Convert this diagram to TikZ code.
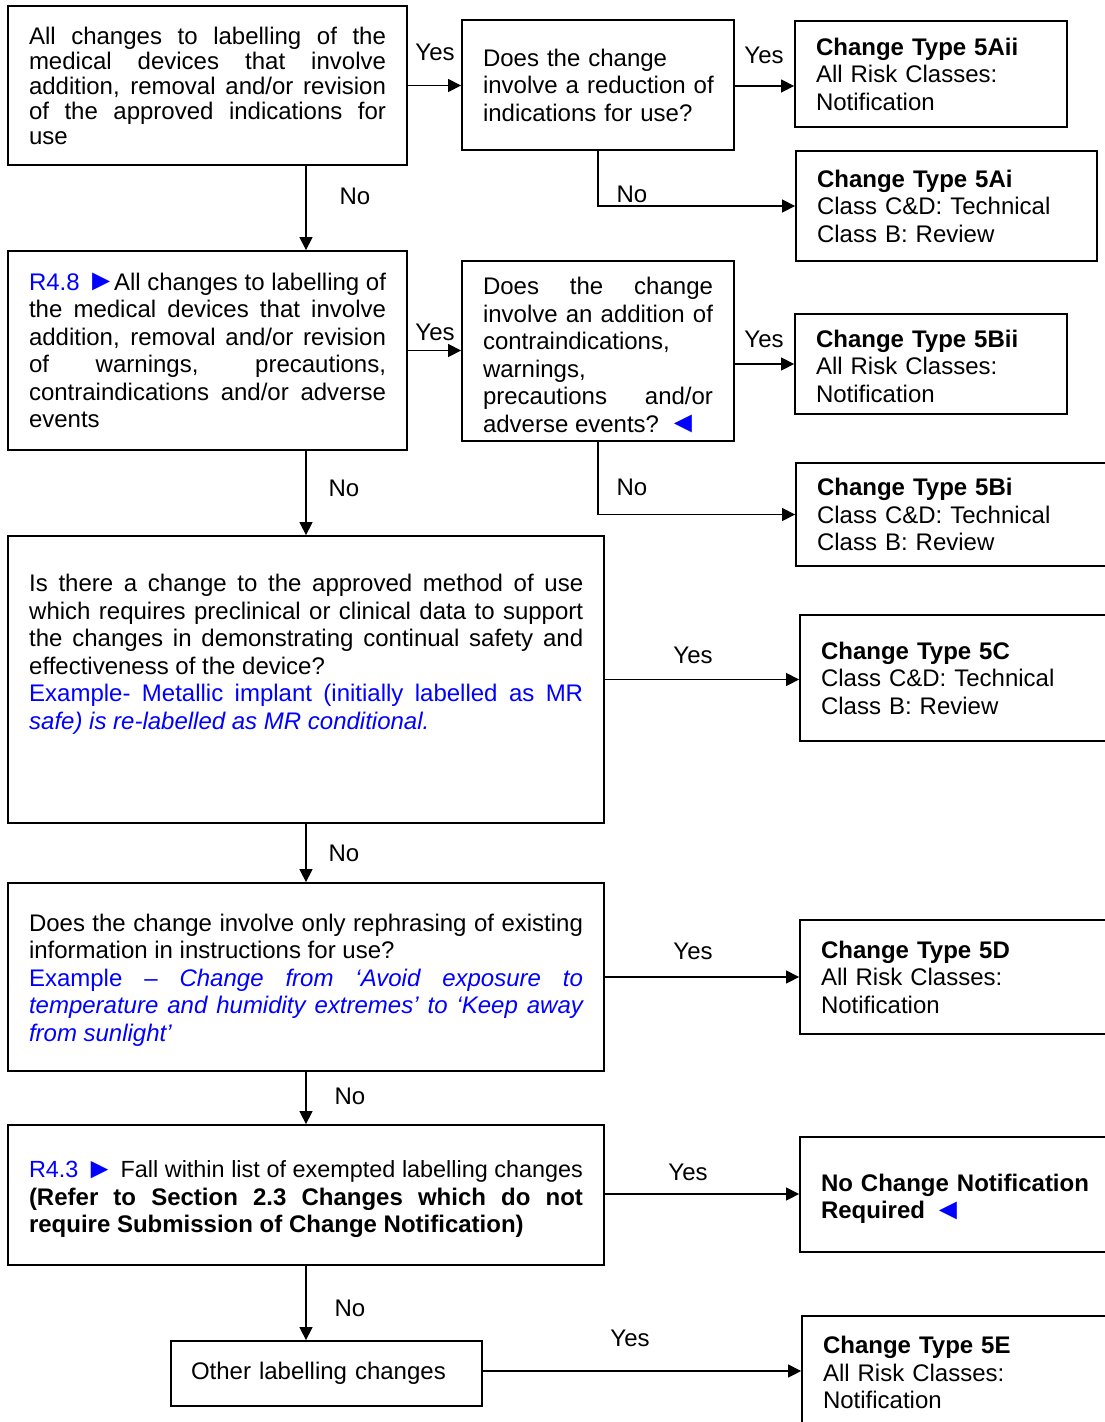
\documentclass[tikz,border=0pt]{standalone}
\usepackage{fontspec}
\usepackage{graphicx}
\setmainfont{Liberation Sans}
\usetikzlibrary{arrows.meta}
\newcommand\rtri{\textcolor{blue}{\raisebox{-0.5pt}{\scalebox{1.25}{►}}}}
\newcommand\ltri{\textcolor{blue}{\raisebox{-0.5pt}{\scalebox{1.25}{◄}}}}
\newcommand\dn[1]{\rule{0pt}{#1pt}}
\begin{document}
\begin{tikzpicture}[x=1pt,y=-1pt,
  bx/.style={draw, line width=1.8pt, inner xsep=21pt, inner ysep=0pt,
    font=\fontsize{24}{27.5}\selectfont},
  txt/.style={inner sep=0pt, font=\fontsize{24}{27.5}\selectfont},
  lbl/.style={inner sep=0pt, font=\fontsize{24}{27.5}\selectfont},
  arr/.style={line width=1.3pt, -{Triangle[length=13pt,width=13pt]}}]
\useasboundingbox (0,0) rectangle (1105,1422);
\fill[white] (0,0) rectangle (1105,1422);
\clip (0,0) rectangle (1105,1422);

% row 1
\node[bx, minimum width=399pt, text width=357pt, minimum height=159pt, align=justify,
  font=\fontsize{24}{25}\selectfont] (b1) at (207.5,85.5)
  {All changes to labelling of the\linebreak medical devices that involve\linebreak addition, removal and/or revision\linebreak of the approved indications for\linebreak use};
\node[bx, minimum width=272pt, text width=230pt, minimum height=130pt, align=left] (q1) at (598,85)
  {Does the change\\\mbox{involve a reduction of}\\indications for use?};
\node[bx, minimum width=272pt, text width=230pt, minimum height=106pt, align=left] (a2) at (931,74)
  {\textbf{Change Type 5Aii}\\All Risk Classes:\\Notification};
\node[bx, minimum width=301pt, text width=259pt, minimum height=110pt, align=left] (a1) at (946.5,206)
  {\textbf{Change Type 5Ai}\\Class C\&D: Technical\\Class B: Review};

% row 2
\node[bx, minimum width=399pt, text width=357pt, minimum height=199pt, align=justify] (r48) at (207.5,350.5)
  {\textcolor{blue}{R4.8 }\rtri\kern-2pt All changes to labelling of\linebreak the medical devices that involve\linebreak addition, removal and/or revision\linebreak of warnings, precautions,\linebreak contraindications and/or adverse\linebreak events};
\node[bx, minimum width=272pt, text width=230pt, minimum height=180pt, align=justify] (q2) at (598,351)
  {\dn{25.5}Does the change\linebreak involve an addition of\linebreak contraindications,\linebreak warnings,\linebreak precautions and/or\linebreak adverse events? \ltri};
\node[bx, minimum width=272pt, text width=230pt, minimum height=100pt, align=left] (b2) at (931,364)
  {\dn{21.5}\textbf{Change Type 5Bii}\\All Risk Classes:\\Notification};
\node[bx, minimum width=324pt, text width=282pt, minimum height=103pt, align=left] (bb1) at (958,514.5)
  {\textbf{Change Type 5Bi}\\Class C\&D: Technical\\Class B: Review};

% row 3
\node[bx, minimum width=596pt, minimum height=287pt] (big) at (306,679.5) {};
\node[txt, anchor=north west, text width=554pt, align=justify] (bigtxt) at (29,574)
  {Is there a change to the approved method of use\linebreak which requires preclinical or clinical data to support\linebreak the changes in demonstrating continual safety and\linebreak effectiveness of the device?\\\color{blue}Example- Metallic implant (initially labelled as MR\linebreak \textit{safe) is re-labelled as MR conditional.}};
\node[bx, minimum width=325pt, text width=283pt, minimum height=126pt, align=left] (c) at (962.5,678)
  {\textbf{Change Type 5C}\\Class C\&D: Technical\\Class B: Review};

% row 4
\node[bx, minimum width=596pt, text width=554pt, minimum height=188pt, align=justify] (d4) at (306,977)
  {\dn{23.5}Does the change involve only rephrasing of existing\linebreak information in instructions for use?\\\color{blue}Example – \textit{Change from ‘Avoid exposure to\linebreak temperature and humidity extremes’ to ‘Keep away\linebreak from sunlight’}};
\node[bx, minimum width=325pt, text width=283pt, minimum height=114pt, align=left] (d) at (962.5,977)
  {\textbf{Change Type 5D}\\All Risk Classes:\\Notification};

% row 5
\node[bx, minimum width=596pt, text width=554pt, minimum height=140pt, align=justify] (r43) at (306,1195)
  {\dn{25.5}{\fontsize{23.4}{27.5}\selectfont\textcolor{blue}{R4.3 }\rtri{} Fall within list of exempted labelling changes}\linebreak \textbf{(Refer to Section 2.3 Changes which do not\linebreak require Submission of Change Notification)}};
\node[bx, minimum width=325pt, text width=283pt, minimum height=115pt, align=left,
  font=\fontsize{24}{27.5}\selectfont\bfseries] (nc) at (962.5,1194.5)
  {\dn{25.5}No Change Notification\\Required \ltri};

% row 6
\node[bx, minimum width=311pt, text width=271pt, minimum height=65pt, align=left, inner xsep=20pt] (oth) at (326.5,1373.5)
  {Other labelling changes};
\node[bx, minimum width=323pt, text width=281pt, minimum height=124pt, align=left] (e) at (963.5,1378)
  {\textbf{Change Type 5E}\\All Risk Classes:\\Notification\rule[-11pt]{0pt}{0pt}};

% connectors
\draw[arr] (b1.east) -- (b1.east -| q1.west);
\draw[arr] (q1.east |- 0,86) -- (q1.east |- 0,86 -| a2.west);
\draw[arr] (q1.south) |- (a1.west);
\draw[arr] (b1.south -| big.north) -- (r48.north -| big.north);
\draw[arr] (r48.east) -- (r48.east -| q2.west);
\draw[arr] (q2.east |- b2.west) -- (b2.west);
\draw[arr] (q2.south) |- (bb1.west);
\draw[arr] (r48.south -| big.north) -- (big.north);
\draw[arr] (big.east) -- (big.east -| c.west);
\draw[arr] (big.south) -- (d4.north);
\draw[arr] (d4.east) -- (d4.east -| d.west);
\draw[arr] (d4.south) -- (r43.north);
\draw[arr] (r43.east |- 0,1194) -- (r43.east |- 0,1194 -| nc.west);
\draw[arr] (r43.south) -- (r43.south |- oth.north);
\draw[arr] (oth.east |- 0,1371) -- (oth.east |- 0,1371 -| e.west);

% labels
\node[lbl] (y1) at (435,52) {Yes};
\node[lbl] (y2) at (764,55) {Yes};
\node[lbl] (n1) at (632,194) {No};
\node[lbl] (n2) at (355,196) {No};
\node[lbl] (y3) at (435,332) {Yes};
\node[lbl] (y4) at (764,339) {Yes};
\node[lbl] (n3) at (632,487) {No};
\node[lbl] (n4) at (344,488) {No};
\node[lbl] (y5) at (693,655) {Yes};
\node[lbl] (n5) at (344,853) {No};
\node[lbl] (y6) at (693,951) {Yes};
\node[lbl] (n6) at (350,1096) {No};
\node[lbl] (y7) at (688,1172) {Yes};
\node[lbl] (n7) at (350,1308) {No};
\node[lbl] (y8) at (630,1338) {Yes};
\end{tikzpicture}
\end{document}
